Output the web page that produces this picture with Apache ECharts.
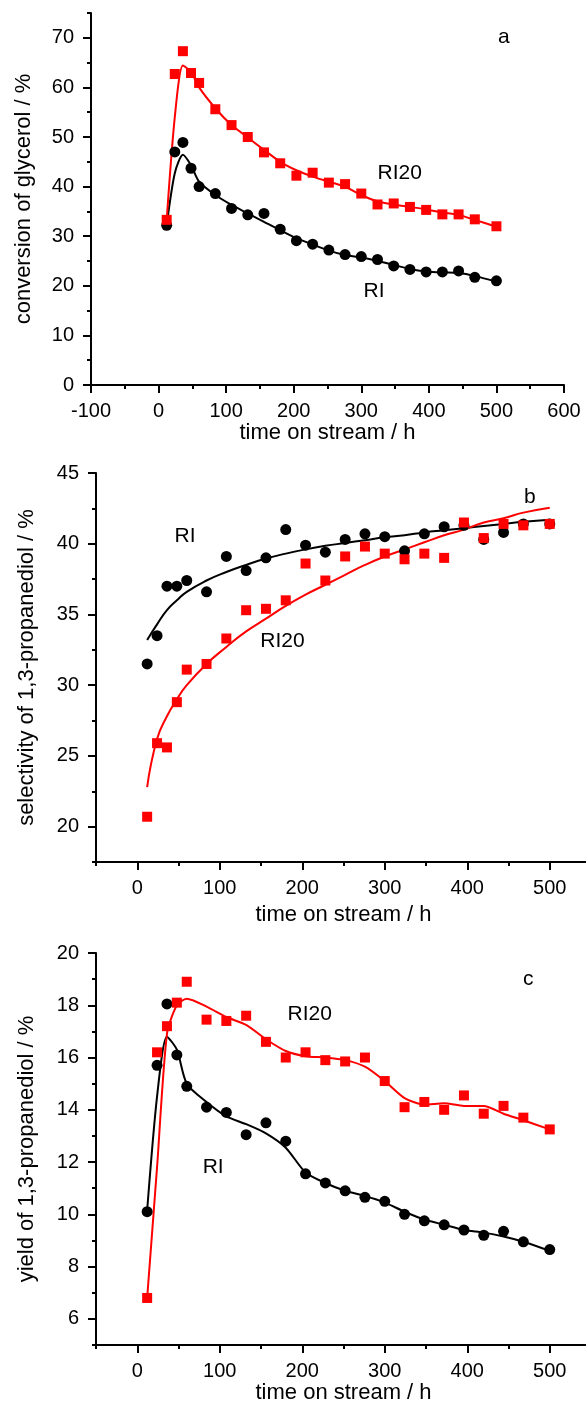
<!DOCTYPE html>
<html>
<head>
<meta charset="utf-8">
<script src="https://cdn.jsdelivr.net/npm/echarts@6.0.0/dist/echarts.min.js"></script>
<style>
  html, body { margin: 0; padding: 0; background: #fff; }
  #chart { width: 586px; height: 1401px; }
</style>
</head>
<body>
<div id="chart"></div>
<script>
// time on stream (h), shared by all three panels
const TIME = [12, 24, 36, 48, 60, 84, 108, 132, 156, 180, 204, 228, 252, 276, 300, 324, 348, 372, 396, 420, 444, 468, 500]

// a: conversion of glycerol (%)
const convRI = [32.2, 47.0, 48.9, 43.7, 40.0, 38.6, 35.6, 34.3, 34.6, 31.4, 29.1, 28.4, 27.2, 26.3, 25.9, 25.3, 24.0, 23.3, 22.8, 22.8, 23.0, 21.7, 21.0]
const convRI20 = [33.3, 62.7, 67.3, 62.9, 60.9, 55.6, 52.4, 50.0, 46.9, 44.7, 42.2, 42.8, 40.8, 40.5, 38.6, 36.4, 36.6, 35.9, 35.3, 34.4, 34.4, 33.4, 32.0]
const convRIFit = [32.2, 42.7, 46.4, 44.3, 41.0, 38.3, 36.3, 34.6, 32.9, 31.2, 29.6, 28.3, 27.1, 26.2, 25.7, 25.0, 24.2, 23.4, 22.9, 22.7, 22.6, 22.0, 20.8]
const convRI20Fit = [33.3, 54.0, 64.4, 63.1, 60.0, 55.8, 52.4, 49.9, 47.4, 45.0, 43.3, 42.0, 41.0, 40.0, 38.3, 37.0, 36.4, 35.9, 35.4, 34.8, 34.3, 33.3, 31.9]

// b: selectivity of 1,3-propanediol (%)
const selRI = [31.5, 33.5, 37.0, 37.0, 37.4, 36.6, 39.1, 38.1, 39.0, 41.0, 39.9, 39.4, 40.3, 40.7, 40.5, 39.5, 40.7, 41.2, 41.3, 40.3, 40.8, 41.4, 41.4]
const selRI20 = [20.7, 25.9, 25.6, 28.8, 31.1, 31.5, 33.3, 35.3, 35.4, 36.0, 38.6, 37.4, 39.1, 39.8, 39.3, 38.9, 39.3, 39.0, 41.5, 40.4, 41.4, 41.3, 41.4]
const selRIFit = [33.2, 34.3, 35.3, 36.0, 36.6, 37.4, 38.0, 38.5, 38.95, 39.3, 39.6, 39.85, 40.05, 40.25, 40.45, 40.6, 40.8, 40.95, 41.1, 41.25, 41.4, 41.55, 41.7]
const selRI20Fit = [22.8, 26.2, 27.8, 29.0, 30.0, 31.5, 32.7, 33.8, 34.7, 35.6, 36.4, 37.1, 37.8, 38.5, 39.1, 39.6, 40.1, 40.6, 41.0, 41.5, 41.8, 42.2, 42.55]

// c: yield of 1,3-propanediol (%)
const yldRI = [10.1, 15.7, 18.05, 16.1, 14.9, 14.1, 13.9, 13.05, 13.5, 12.8, 11.55, 11.2, 10.9, 10.65, 10.5, 10.0, 9.75, 9.6, 9.4, 9.2, 9.35, 8.95, 8.65]
const yldRI20 = [6.8, 16.2, 17.2, 18.1, 18.9, 17.45, 17.4, 17.6, 16.6, 16.0, 16.2, 15.9, 15.85, 16.0, 15.1, 14.1, 14.3, 14.0, 14.55, 13.85, 14.15, 13.7, 13.25]
const yldRIFit = [10.15, 14.5, 16.8, 16.3, 15.0, 14.3, 13.75, 13.45, 13.1, 12.55, 11.6, 11.2, 10.9, 10.7, 10.45, 10.1, 9.8, 9.6, 9.4, 9.3, 9.15, 8.95, 8.6]
const yldRI20Fit = [6.8, 11.8, 16.9, 18.0, 18.25, 17.95, 17.55, 17.25, 16.7, 16.25, 16.05, 16.0, 15.9, 15.65, 15.1, 14.45, 14.2, 14.25, 14.15, 14.15, 13.85, 13.6, 13.25]

// tick values
const X_TICKS_A = [-100, 0, 100, 200, 300, 400, 500, 600]
const X_MINOR_A = [-50, 50, 150, 250, 350, 450, 550]
const X_TICKS_BC = [0, 100, 200, 300, 400, 500]
const X_MINOR_BC = [-50, 50, 150, 250, 350, 450, 550]
const Y_TICKS_A = [0, 10, 20, 30, 40, 50, 60, 70]
const Y_MINOR_A = [5, 15, 25, 35, 45, 55, 65, 75]
const Y_TICKS_B = [20, 25, 30, 35, 40, 45]
const Y_MINOR_B = [17.5, 22.5, 27.5, 32.5, 37.5, 42.5]
const Y_TICKS_C = [6, 8, 10, 12, 14, 16, 18, 20]
const Y_MINOR_C = [5, 7, 9, 11, 13, 15, 17, 19]

// panel letters and curve names, in data coordinates
const LABELS = [
  { panel: 0, text: 'a', x: 511, y: 70.2 },
  { panel: 0, text: 'RI20', x: 357, y: 42.8 },
  { panel: 0, text: 'RI', x: 319, y: 19.0 },
  { panel: 1, text: 'RI', x: 58, y: 40.5 },
  { panel: 1, text: 'RI20', x: 176, y: 33.1 },
  { panel: 1, text: 'b', x: 476, y: 43.3 },
  { panel: 2, text: 'c', x: 474, y: 19.0 },
  { panel: 2, text: 'RI20', x: 209, y: 17.66 },
  { panel: 2, text: 'RI', x: 92, y: 11.8 },
]

const FONT = "'Liberation Sans', Arial, sans-serif"
const RED = '#f00'
const INK = '#000'

const panels = [
  {
    grid: { left: 91, top: 13, width: 473, height: 372 },
    x: [-100, 600], xTicks: X_TICKS_A, xMinor: X_MINOR_A, xGap: 37,
    y: [0, 75], yTicks: Y_TICKS_A, yMinor: Y_MINOR_A, yGap: 56,
    yName: 'conversion of glycerol / %',
    ri: convRI, ri20: convRI20, riFit: convRIFit, ri20Fit: convRI20Fit, smooth: 0.25,
  },
  {
    grid: { left: 96, top: 473, width: 495, height: 389 },
    x: [-50, 550], xTicks: X_TICKS_BC, xMinor: X_MINOR_BC, xGap: 42,
    y: [17.5, 45], yTicks: Y_TICKS_B, yMinor: Y_MINOR_B, yGap: 58,
    yName: 'selectivity of 1,3-propanediol / %',
    ri: selRI, ri20: selRI20, riFit: selRIFit, ri20Fit: selRI20Fit, smooth: 0.5,
  },
  {
    grid: { left: 96, top: 953, width: 495, height: 392 },
    x: [-50, 550], xTicks: X_TICKS_BC, xMinor: X_MINOR_BC, xGap: 36,
    y: [5, 20], yTicks: Y_TICKS_C, yMinor: Y_MINOR_C, yGap: 58,
    yName: 'yield of 1,3-propanediol / %',
    ri: yldRI, ri20: yldRI20, riFit: yldRIFit, ri20Fit: yldRI20Fit, smooth: 0.25,
  },
]

const tickStyle = { color: INK, width: 2 }
const labelStyle = { fontFamily: FONT, fontSize: 20, color: INK }
const nameStyle = { fontFamily: FONT, fontSize: 22, color: INK }

const pairs = (vals) => TIME.map((t, k) => [t, vals[k]])

const xAxes = []
const yAxes = []
panels.forEach((p, i) => {
  xAxes.push({
    type: 'value', gridIndex: i, min: p.x[0], max: p.x[1], position: 'bottom',
    name: 'time on stream / h', nameLocation: 'middle', nameGap: p.xGap, nameTextStyle: nameStyle,
    axisLine: { show: true, onZero: false, lineStyle: { color: INK, width: 2 } },
    axisTick: { show: true, customValues: p.xTicks, length: 8, lineStyle: tickStyle },
    axisLabel: { customValues: p.xTicks, margin: 16, ...labelStyle },
    splitLine: { show: false },
  })
  yAxes.push({
    type: 'value', gridIndex: i, min: p.y[0], max: p.y[1], position: 'left',
    name: p.yName, nameLocation: 'middle', nameGap: p.yGap, nameTextStyle: nameStyle,
    axisLine: { show: true, onZero: false, lineStyle: { color: INK, width: 2 } },
    axisTick: { show: true, customValues: p.yTicks, length: 8, lineStyle: tickStyle },
    axisLabel: { customValues: p.yTicks, margin: 17, ...labelStyle },
    splitLine: { show: false },
  })
})
// second set of axes only for the short minor ticks
panels.forEach((p, i) => {
  xAxes.push({
    type: 'value', gridIndex: i, min: p.x[0], max: p.x[1], position: 'bottom',
    axisLine: { show: false, onZero: false },
    axisTick: { show: true, customValues: p.xMinor, length: 4, lineStyle: tickStyle },
    axisLabel: { show: false },
    splitLine: { show: false },
  })
  yAxes.push({
    type: 'value', gridIndex: i, min: p.y[0], max: p.y[1], position: 'left',
    axisLine: { show: false, onZero: false },
    axisTick: { show: true, customValues: p.yMinor, length: 4, lineStyle: tickStyle },
    axisLabel: { show: false },
    splitLine: { show: false },
  })
})

const series = []
panels.forEach((p, i) => {
  const ax = { xAxisIndex: i, yAxisIndex: i }
  series.push(
    { type: 'line', ...ax, data: pairs(p.riFit), symbol: 'none', smooth: p.smooth,
      lineStyle: { color: INK, width: 2 }, z: 2 },
    { type: 'line', ...ax, data: pairs(p.ri20Fit), symbol: 'none', smooth: p.smooth,
      lineStyle: { color: RED, width: 2 }, z: 2 },
    { type: 'scatter', ...ax, data: pairs(p.ri), symbol: 'circle', symbolSize: 11,
      itemStyle: { color: INK, opacity: 1 }, z: 3 },
    { type: 'scatter', ...ax, data: pairs(p.ri20), symbol: 'rect', symbolSize: 10,
      itemStyle: { color: RED, opacity: 1 }, z: 4 },
  )
})

const chart = echarts.init(document.getElementById('chart'), null, { renderer: 'canvas' })
chart.setOption({
  backgroundColor: '#fff',
  animation: false,
  grid: panels.map(p => ({ ...p.grid, containLabel: false, outerBoundsMode: 'none' })),
  xAxis: xAxes,
  yAxis: yAxes,
  series,
})

chart.setOption({
  graphic: LABELS.map(l => {
    const [px, py] = chart.convertToPixel({ xAxisIndex: l.panel, yAxisIndex: l.panel }, [l.x, l.y])
    return {
      type: 'text', x: px, y: py, z: 10,
      style: { text: l.text, font: `21px ${FONT}`, fill: INK, textAlign: 'center', textVerticalAlign: 'middle' },
    }
  }),
})
</script>
</body>
</html>
